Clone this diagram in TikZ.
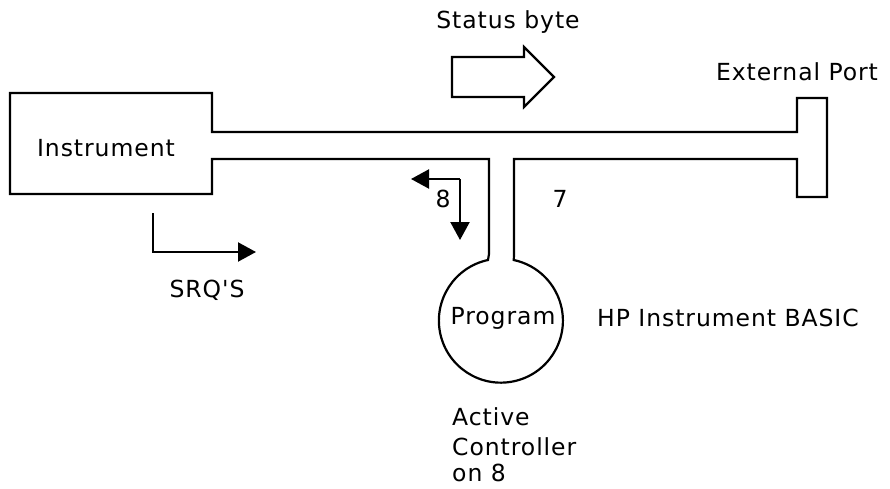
\documentclass[tikz,border=0pt]{standalone}
\usepackage{fontspec}
\newfontfamily\plotfont[LetterSpace=4]{DejaVu Sans}
\usetikzlibrary{arrows.meta}
\tikzset{
  lbl/.style={inner sep=0pt, font=\plotfont\fontsize{23.5}{28}\selectfont},
  wire/.style={line width=2.2pt, line join=miter},
  ptr/.style={line width=2.2pt, -{Triangle[length=18pt,width=19pt]}},
}
\begin{document}
\begin{tikzpicture}[x=1pt,y=-1pt]
\useasboundingbox (0,0) rectangle (890,489);
% outline: instrument box, bus, stem to program circle, external port
\draw[wire] (212,132) -- (212,93) -- (10,93) -- (10,194) -- (212,194) -- (212,159)
  -- (489,159) -- (489,254) -- (488,260)
  arc[start angle=102, end angle=438, radius=62pt]
  -- (514,254) -- (514,159) -- (797,159) -- (797,197) -- (827,197) -- (827,98) -- (797,98)
  -- (797,132) -- cycle;
% status byte block arrow
\draw[wire] (452,57) -- (524,57) -- (524,47) -- (554,77) -- (524,107) -- (524,97) -- (452,97) -- cycle;
% texts
\node[lbl] (status) at (508,22) {Status byte};
\node[lbl] (extport) at (797,72) {External Port};
\node[lbl] (instr) at (106,148) {Instrument};
\node[lbl] (srq) at (207,290) {SRQ'S};
\node[lbl] (eight) at (443,199) {8};
\node[lbl] (seven) at (560,199) {7};
\node[lbl] (prog) at (503,318) {Program};
\node[lbl, anchor=west] (hp) at (597,318) {HP Instrument BASIC};
\node[lbl, anchor=west] (act1) at (452,417) {Active};
\node[lbl, anchor=west] (act2) at (452,447) {Controller};
\node[lbl, anchor=west] (act3) at (452,473) {on 8};
% SRQ arrow
\coordinate (srqa) at (153,213);
\coordinate (srqb) at (153,252);
\coordinate (srqc) at (256,252);
\draw[ptr] (srqa) -- (srqb) -- (srqc);
% 8 arrows
\coordinate (ecorner) at (460,179);
\coordinate (eleft) at (411,179);
\coordinate (edown) at (460,240);
\draw[ptr] (ecorner) -- (eleft);
\draw[ptr] (ecorner) -- (edown);
\end{tikzpicture}
\end{document}
